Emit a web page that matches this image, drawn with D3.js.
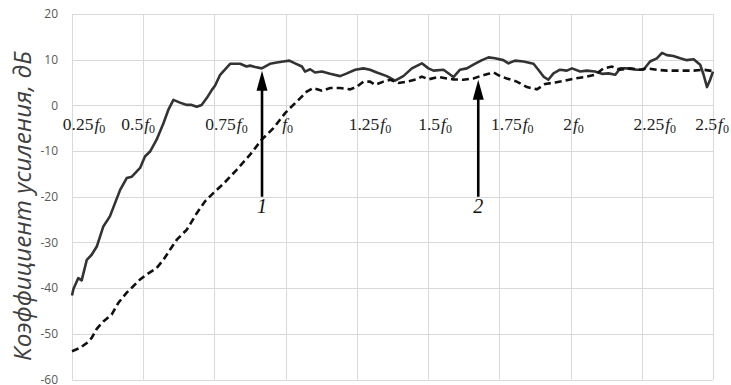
<!DOCTYPE html>
<html>
<head>
<meta charset="utf-8">
<script src="https://cdn.jsdelivr.net/npm/d3@7"></script>
<style>
  body { margin: 0; background: #fff; }
  svg { display: block; }
</style>
</head>
<body>
<svg id="chart" width="731" height="385"></svg>
<script>
// Curve 1 (solid): frequency in f0 units, gain in dB
const solidF = [0.25, 0.255, 0.272, 0.284, 0.302, 0.319, 0.337, 0.360, 0.383, 0.401, 0.419, 0.442, 0.460,
  0.489, 0.506, 0.524, 0.547, 0.571, 0.588, 0.606, 0.629, 0.653, 0.670, 0.688, 0.705, 0.723, 0.741,
  0.752, 0.770, 0.805, 0.840, 0.863, 0.875, 0.893, 0.916, 0.945, 0.969, 0.992, 1.013, 1.033, 1.057,
  1.068, 1.086, 1.103, 1.127, 1.156, 1.191, 1.215, 1.244, 1.273, 1.296, 1.320, 1.355, 1.384, 1.413,
  1.443, 1.478, 1.501, 1.519, 1.554, 1.589, 1.612, 1.636, 1.659, 1.689, 1.712, 1.735, 1.764, 1.782,
  1.805, 1.835, 1.870, 1.887, 1.905, 1.922, 1.940, 1.963, 1.987, 2.005, 2.034, 2.057, 2.086, 2.110,
  2.133, 2.157, 2.174, 2.198, 2.233, 2.256, 2.279, 2.303, 2.321, 2.338, 2.361, 2.385, 2.408, 2.432,
  2.455, 2.467, 2.479, 2.490, 2.5];
const solidDb = [-41.6, -40.2, -37.8, -38.3, -33.8, -32.7, -30.9, -26.5, -24.3, -21.4, -18.5, -15.9, -15.6,
  -13.7, -11.2, -10.1, -7.5, -3.9, -1.0, 1.2, 0.6, 0.1, 0.1, -0.3, 0.1, 1.6, 3.4,
  4.3, 6.7, 9.1, 9.1, 8.5, 8.7, 8.4, 8.1, 9.1, 9.4, 9.6, 9.8, 9.2, 8.5,
  7.4, 7.9, 7.2, 7.4, 6.9, 6.4, 7.0, 7.8, 8.1, 7.8, 7.2, 6.4, 5.4, 6.4,
  8.1, 9.2, 8.1, 7.6, 7.8, 6.2, 7.8, 8.1, 8.9, 9.9, 10.5, 10.3, 9.9, 9.2,
  9.8, 9.6, 9.1, 7.8, 6.3, 5.6, 7.0, 7.8, 7.6, 8.1, 7.4, 7.6, 7.4, 6.9,
  7.0, 6.7, 8.1, 8.1, 7.8, 7.8, 9.6, 10.3, 11.5, 11.0, 10.8, 10.3, 9.9, 10.1,
  8.9, 6.7, 4.0, 5.6, 7.4];

// Curve 2 (dashed)
const dashF = [0.25, 0.278, 0.302, 0.319, 0.337, 0.360, 0.389, 0.413, 0.442, 0.465, 0.489, 0.512, 0.547,
  0.571, 0.594, 0.618, 0.653, 0.688, 0.717, 0.746, 0.781, 0.828, 0.875, 0.916, 0.957, 0.998, 1.015,
  1.045, 1.074, 1.097, 1.127, 1.156, 1.191, 1.226, 1.250, 1.273, 1.296, 1.314, 1.343, 1.367, 1.396,
  1.425, 1.460, 1.478, 1.501, 1.536, 1.566, 1.589, 1.624, 1.659, 1.683, 1.712, 1.730, 1.753, 1.776,
  1.811, 1.847, 1.882, 1.911, 1.946, 1.981, 2.016, 2.051, 2.086, 2.116, 2.145, 2.174, 2.209, 2.244,
  2.268, 2.303, 2.338, 2.385, 2.432, 2.467, 2.5];
const dashDb = [-53.8, -53.1, -52.0, -50.9, -48.9, -47.3, -45.8, -43.2, -41.0, -39.6, -38.1, -37.0, -35.6,
  -33.8, -31.6, -29.4, -27.2, -23.6, -21.0, -19.2, -17.2, -14.1, -10.8, -7.5, -5.0, -1.7, -0.6,
  1.2, 3.0, 3.8, 3.2, 3.8, 3.8, 3.5, 4.1, 5.2, 5.2, 4.5, 5.2, 5.6, 4.9,
  5.2, 5.7, 6.3, 5.7, 6.2, 5.9, 5.7, 5.6, 5.9, 6.4, 6.9, 7.2, 6.4, 5.9,
  5.2, 4.0, 3.5, 4.7, 5.0, 5.4, 5.9, 6.2, 6.7, 8.1, 8.5, 7.8, 8.1, 7.8,
  8.1, 7.8, 7.6, 7.6, 7.6, 7.8, 7.5];

// Axis ticks and labels
const xTicks = [0.25, 0.5, 0.75, 1, 1.25, 1.5, 1.75, 2, 2.25, 2.5];
const xTickNums = ['0.25', '0.5', '0.75', '', '1.25', '1.5', '1.75', '2', '2.25', '2.5'];
const yTicks = [20, 10, 0, -10, -20, -30, -40, -50, -60];
const yTitle = 'Коэффициент усиления, дБ';

// Arrow annotations: label, frequency, tip gain, tail gain
const arrowLabels = ['1', '2'];
const arrowF = [0.917, 1.676];
const arrowTip = [7.6, 5.6];
const arrowTail = [-20, -20];

// layout
const margin = { left: 72, top: 14, right: 18, bottom: 5.5 };
const W = 731, H = 385;
const labelShift = [12, -5, 12, 1, 13, 7, 13, 3, 13, -1];

const svg = d3.select('#chart');
const x = d3.scaleLinear().domain([0.25, 2.5]).range([margin.left, W - margin.right]);
const y = d3.scaleLinear().domain([-60, 20]).range([H - margin.bottom, margin.top]);

// grid
const grid = svg.append('g').attr('stroke', '#d9d9d9').attr('stroke-width', 1);
grid.selectAll('line.h').data(yTicks).enter().append('line')
  .attr('x1', x(0.25)).attr('x2', x(2.5))
  .attr('y1', d => Math.round(y(d)) + 0.5).attr('y2', d => Math.round(y(d)) + 0.5);
grid.selectAll('line.v').data(xTicks).enter().append('line')
  .attr('y1', y(20)).attr('y2', y(-60))
  .attr('x1', d => Math.round(x(d)) + 0.5).attr('x2', d => Math.round(x(d)) + 0.5);

// y tick labels
svg.append('g').selectAll('text').data(yTicks).enter().append('text')
  .attr('x', 58).attr('y', d => y(d)).attr('dy', '0.35em')
  .attr('text-anchor', 'end')
  .attr('font-family', 'Open Sans, sans-serif').attr('font-size', 12)
  .attr('fill', '#595959')
  .text(d => d);

// y title
const title = svg.append('text')
  .attr('transform', 'translate(31,206) rotate(-90)')
  .attr('text-anchor', 'middle')
  .attr('font-family', 'Open Sans, sans-serif').attr('font-style', 'italic')
  .attr('font-size', 20).attr('fill', '#404040')
  .text(yTitle);
const tLen = title.node().getComputedTextLength();
title.attr('font-size', 20 * 310 / tLen);

// curves
const line = d3.line().x(d => x(d[0])).y(d => y(d[1]));
svg.append('path')
  .datum(solidF.map((f, i) => [f, solidDb[i]]))
  .attr('d', line).attr('fill', 'none')
  .attr('stroke', '#333').attr('stroke-width', 2.6)
  .attr('stroke-linejoin', 'round');
svg.append('path')
  .datum(dashF.map((f, i) => [f, dashDb[i]]))
  .attr('d', line).attr('fill', 'none')
  .attr('stroke', '#111').attr('stroke-width', 2.6)
  .attr('stroke-dasharray', '7,4');

// x tick labels (f0 notation)
const xl = svg.append('g').selectAll('text').data(xTicks).enter().append('text')
  .attr('x', (d, i) => x(d) + labelShift[i]).attr('y', 130)
  .attr('text-anchor', 'middle')
  .attr('font-family', 'Liberation Serif, serif').attr('font-size', 17.5)
  .attr('fill', '#222');
xl.append('tspan').text((d, i) => xTickNums[i]);
xl.append('tspan').attr('font-style', 'italic').attr('dx', 1).text('f');
xl.append('tspan').attr('font-size', 12).attr('dy', 3).text('0');

// arrows
const arrows = svg.append('g');
arrowLabels.forEach((lab, i) => {
  const ax = x(arrowF[i]), yt = y(arrowTip[i]), yb = y(arrowTail[i]);
  arrows.append('line')
    .attr('x1', ax).attr('x2', ax).attr('y1', yb).attr('y2', yt + 16)
    .attr('stroke', '#000').attr('stroke-width', 2.6);
  arrows.append('path')
    .attr('d', `M${ax},${yt} L${ax - 5.5},${yt + 20} L${ax + 5.5},${yt + 20} Z`)
    .attr('fill', '#000');
  arrows.append('text')
    .attr('x', ax).attr('y', yb + 16)
    .attr('text-anchor', 'middle')
    .attr('font-family', 'Liberation Serif, serif').attr('font-style', 'italic')
    .attr('font-size', 20).attr('fill', '#111')
    .text(lab);
});
</script>
</body>
</html>
